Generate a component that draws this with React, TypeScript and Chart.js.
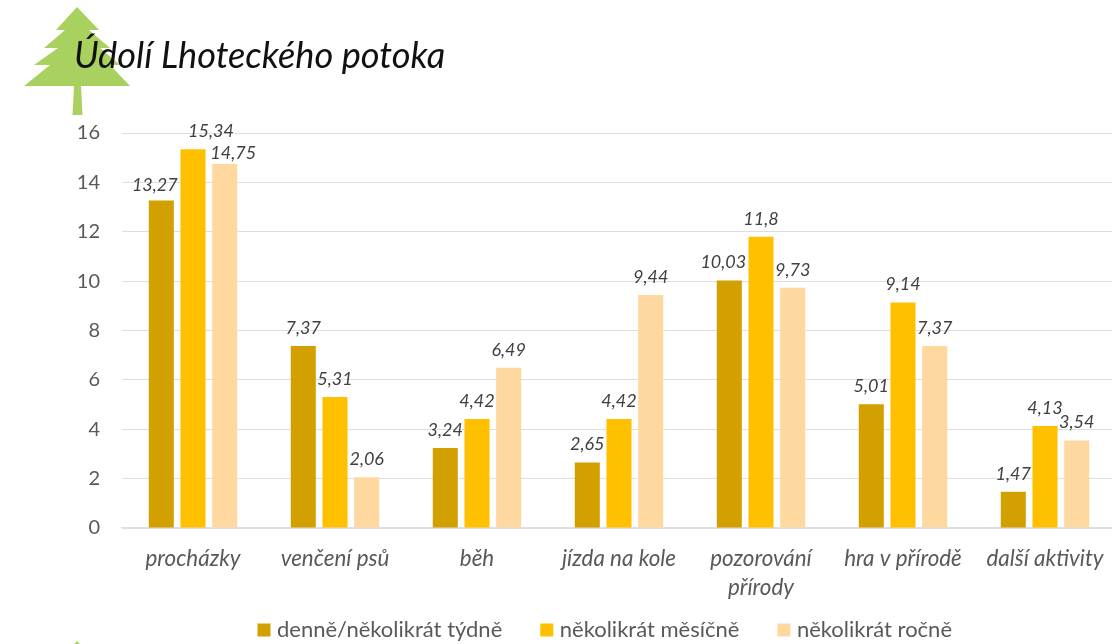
import React, { useEffect, useRef } from "react";
import { Chart, registerables } from "chart.js";

Chart.register(...registerables);

const categories: (string | string[])[] = [
  "procházky",
  "venčení psů",
  "běh",
  "jízda na kole",
  ["pozorování", "přírody"],
  "hra v přírodě",
  "další aktivity",
];
const denne = [13.27, 7.37, 3.24, 2.65, 10.03, 5.01, 1.47];
const mesicne = [15.34, 5.31, 4.42, 4.42, 11.8, 9.14, 4.13];
const rocne = [14.75, 2.06, 6.49, 9.44, 9.73, 7.37, 3.54];
const seriesNames = ["denně/několikrát týdně", "několikrát měsíčně", "několikrát ročně"];
const seriesColors = ["#D2A000", "#FFC000", "#FFD8A0"];
const chartTitle = "Údolí Lhoteckého potoka";

// label nudges: [dataset, category, dx, dy]
const labelNudges: [number, number, number, number][] = [
  [0, 0, -6.5, 3],
  [1, 0, 18, 0],
  [2, 0, 8.5, 7],
  [0, 4, -6, 0],
];

const FONT = "Lato";
const TEXT_AXIS = "#595959";
const TEXT_LABEL = "#404040";

const treeOutline: [number, number][] = [
  [77, 7], [99, 30], [89, 30], [110, 48], [100, 48], [120, 65], [110, 65], [130, 86],
  [81, 86], [82.5, 115], [72.5, 115], [74, 86], [24, 86], [50, 65], [34, 65], [58, 48],
  [44, 48], [65, 30], [56, 30],
];

const treePlugin = {
  id: "trees",
  beforeDraw(chart: any) {
    const { ctx } = chart;
    [0, 634].forEach((dy) => {
      ctx.save();
      ctx.fillStyle = "#A9D15F";
      ctx.beginPath();
      treeOutline.forEach(([x, y], i) => (i ? ctx.lineTo(x, y + dy) : ctx.moveTo(x, y + dy)));
      ctx.closePath();
      ctx.fill();
      ctx.restore();
    });
  },
};

const valueLabelPlugin = {
  id: "valueLabels",
  afterLayout(chart: any) {
    // room for the two-line category label, which overlaps the legend's band
    chart.scales.x.bottom += 30;
    // the legend sits right of the centre of the canvas
    chart.legend.left += 12;
    chart.legend.right += 12;
    chart.legend.top -= 1;
  },
  afterDatasetsDraw(chart: any) {
    const { ctx } = chart;
    ctx.save();
    ctx.font = `italic 18px ${FONT}`;
    ctx.fillStyle = TEXT_LABEL;
    ctx.textAlign = "center";
    ctx.textBaseline = "middle";
    chart.data.datasets.forEach((ds: any, i: number) => {
      chart.getDatasetMeta(i).data.forEach((bar: any, j: number) => {
        const nudge = labelNudges.find((n) => n[0] === i && n[1] === j);
        const dx = nudge ? nudge[2] : 0;
        const dy = nudge ? nudge[3] : 0;
        ctx.fillText(String(ds.data[j]).replace(".", ","), bar.x + dx, bar.y - 18 + dy);
      });
    });
    ctx.restore();
  },
};

export default function App() {
  const ref = useRef<HTMLCanvasElement>(null);
  useEffect(() => {
    const chart = new Chart(ref.current!, {
      type: "bar",
      data: {
        labels: categories as any,
        datasets: [denne, mesicne, rocne].map((data, i) => ({
          label: seriesNames[i],
          data,
          backgroundColor: seriesColors[i],
          categoryPercentage: 0.67,
          barPercentage: 0.79,
        })),
      },
      plugins: [treePlugin, valueLabelPlugin],
      options: {
        responsive: false,
        animation: false,
        layout: { padding: { left: 74, right: 0, top: 0, bottom: 0 } },
        plugins: {
          tooltip: { enabled: false },
          title: {
            display: true,
            text: chartTitle,
            align: "start",
            color: "#111111",
            font: { family: FONT, style: "italic", weight: "normal", size: 36.2, lineHeight: 1.2 },
            padding: { top: 35, bottom: 54.6 },
          },
          legend: {
            position: "bottom",
            labels: {
              color: TEXT_AXIS,
              font: { family: FONT, size: 22 },
              boxWidth: 4,
              boxHeight: 4,
              padding: 42.5,
              generateLabels: () =>
                seriesNames.map((text, i) => ({
                  text,
                  fillStyle: seriesColors[i],
                  strokeStyle: seriesColors[i],
                  lineWidth: 9,
                  datasetIndex: i,
                  fontColor: TEXT_AXIS,
                })),
            },
          },
        },
        scales: {
          x: {
            afterFit: (s: any) => {
              s.height = 49.5;
              s.paddingLeft = 0;
              s.paddingRight = 0;
            },
            grid: { display: false },
            border: { color: "#DFDFDF", width: 1.5 },
            ticks: {
              color: TEXT_AXIS,
              maxRotation: 0,
              autoSkip: false,
              padding: 8,
              font: { family: FONT, style: "italic", size: 22.4, lineHeight: 1.3 },
            },
          },
          y: {
            min: 0,
            max: 16,
            afterFit: (s: any) => { s.width = 48; },
            border: { display: false },
            grid: { color: "#DEDEDE", lineWidth: 1, drawTicks: false },
            ticks: {
              stepSize: 2,
              color: TEXT_AXIS,
              padding: 22,
              font: { family: FONT, size: 20 },
            },
          },
        },
      },
    } as any);
    return () => chart.destroy();
  }, []);
  return (
    <div style={{ position: "absolute", left: 0, top: 0, width: 1112, height: 644, overflow: "hidden", background: "#fff" }}>
      <canvas ref={ref} width={1116} height={652} style={{ display: "block" }} />
    </div>
  );
}
